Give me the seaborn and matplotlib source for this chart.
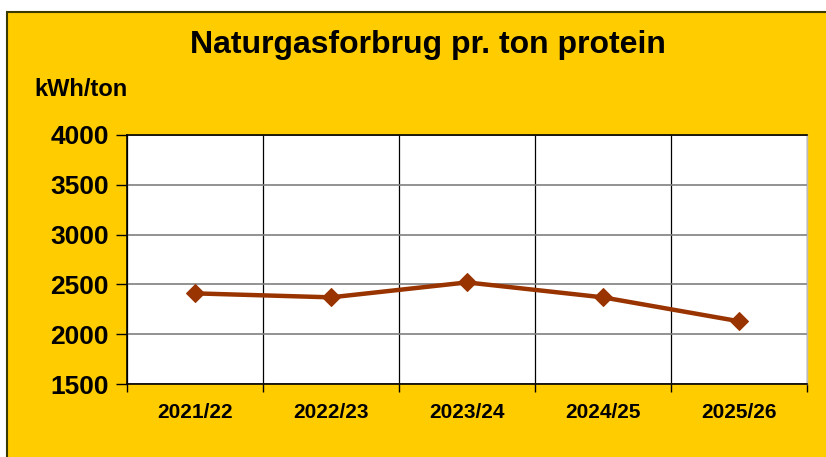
import matplotlib
matplotlib.use("Agg")
import matplotlib.pyplot as plt
from matplotlib.patches import Rectangle
import seaborn as sns
import numpy as np

# data
seasons = ["2021/22", "2022/23", "2023/24", "2024/25", "2025/26"]
kwh_per_ton = [2410, 2370, 2520, 2370, 2130]
y_ticks = [1500, 2000, 2500, 3000, 3500, 4000]

sns.set_style("white")
plt.rcParams['font.family'] = ['Liberation Sans', 'DejaVu Sans']
plt.rcParams['text.color'] = 'black'
plt.rcParams['xtick.color'] = 'black'
plt.rcParams['ytick.color'] = 'black'

W, H = 826, 457
fig = plt.figure(figsize=(W / 100, H / 100), dpi=100)
fig.patch.set_facecolor("white")

# yellow background panel with dark border
fig.patches.append(Rectangle((7 / W, -0.01), 1.0, (H - 12) / H + 0.01,
                             transform=fig.transFigure, facecolor="#FFCC00",
                             edgecolor="#3a3a00", linewidth=1.5, zorder=-5))

ax = fig.add_axes([127 / W, (H - 384) / H, (807 - 127) / W, (384 - 135) / H])
ax.set_facecolor("white")

x = np.arange(len(seasons))
sns.lineplot(x=x, y=kwh_per_ton, ax=ax, color="#993300", linewidth=3.2,
             marker="D", markersize=9, markeredgecolor="#993300", zorder=5)

ax.set_xlim(-0.5, len(seasons) - 0.5)
ax.set_ylim(1500, 4000)
ax.set_yticks(y_ticks)
ax.set_yticklabels([str(v) for v in y_ticks], fontsize=19, fontweight="bold")
ax.set_xticks(x)
ax.set_xticklabels(seasons, fontsize=15, fontweight="bold")
ax.set_xticks(np.arange(-0.5, len(seasons)), minor=True)

ax.tick_params(axis="x", which="major", bottom=True, length=0, pad=14)
ax.tick_params(axis="x", which="minor", bottom=True, length=6, width=1,
               color="black", direction="out")
ax.tick_params(axis="y", which="major", left=True, length=8, width=1,
               color="black", direction="out", pad=5)

ax.grid(False)
ax.yaxis.grid(True, color="#7f7f7f", linewidth=1.2)
ax.xaxis.grid(True, which="minor", color="black", linewidth=0.9)
ax.set_axisbelow(True)

for s in ["left", "bottom", "top"]:
    ax.spines[s].set_color("black")
    ax.spines[s].set_linewidth(1.2)
ax.spines["right"].set_color("#bbbbbb")
ax.spines["right"].set_linewidth(1.0)

fig.text(428 / W, 1 - 45 / H, "Naturgasforbrug pr. ton protein", ha="center",
         va="center", fontsize=23, fontweight="bold")
fig.text(34 / W, 1 - 89 / H, "kWh/ton", ha="left", va="center",
         fontsize=17, fontweight="bold")

fig.savefig("out.png", dpi=100)
